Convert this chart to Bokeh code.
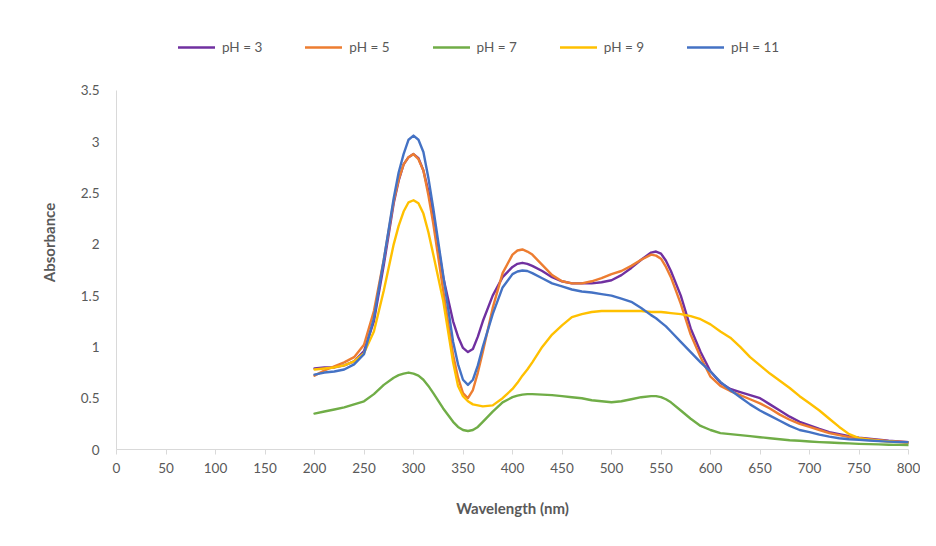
from bokeh.plotting import figure
from bokeh.models import Range1d, FixedTicker, Legend, LegendItem
from bokeh.embed import file_html
from bokeh.resources import INLINE

wavelength = [200, 210, 220, 230, 240, 250, 260, 270, 280, 285, 290, 295, 300, 305, 310, 315, 320, 330, 340, 345,
              350, 355, 360, 365, 370, 380, 390, 400, 405, 410, 415, 420, 430, 440, 450, 460, 470, 480, 490, 500,
              510, 520, 530, 540, 545, 550, 555, 560, 570, 580, 590, 600, 610, 620, 630, 640, 650, 660, 670, 680,
              690, 700, 710, 720, 730, 740, 750, 760, 770, 780, 790, 800]

ph3 = [0.79, 0.80, 0.80, 0.82, 0.86, 0.96, 1.25, 1.80, 2.40, 2.62, 2.78, 2.85, 2.88, 2.84, 2.72, 2.52, 2.28, 1.68, 1.25, 1.10,
       0.99, 0.95, 0.98, 1.10, 1.25, 1.50, 1.68, 1.78, 1.81, 1.82, 1.81, 1.79, 1.74, 1.68, 1.64, 1.62, 1.62, 1.62, 1.63, 1.65,
       1.70, 1.77, 1.85, 1.92, 1.93, 1.91, 1.84, 1.74, 1.50, 1.18, 0.95, 0.76, 0.65, 0.59, 0.56, 0.53, 0.50, 0.44, 0.38, 0.32,
       0.27, 0.235, 0.20, 0.17, 0.15, 0.13, 0.115, 0.105, 0.095, 0.085, 0.078, 0.07]

ph5 = [0.72, 0.77, 0.81, 0.85, 0.90, 1.02, 1.35, 1.85, 2.42, 2.63, 2.78, 2.85, 2.88, 2.83, 2.72, 2.48, 2.20, 1.55, 0.92, 0.70,
       0.55, 0.50, 0.58, 0.75, 0.95, 1.38, 1.72, 1.90, 1.94, 1.95, 1.93, 1.90, 1.80, 1.70, 1.64, 1.62, 1.62, 1.64, 1.67, 1.71,
       1.74, 1.79, 1.85, 1.90, 1.89, 1.86, 1.78, 1.68, 1.42, 1.12, 0.90, 0.71, 0.62, 0.57, 0.53, 0.49, 0.45, 0.40, 0.34, 0.29,
       0.25, 0.22, 0.19, 0.16, 0.14, 0.12, 0.11, 0.10, 0.09, 0.08, 0.075, 0.07]

ph7 = [0.35, 0.37, 0.39, 0.41, 0.44, 0.47, 0.54, 0.63, 0.70, 0.725, 0.74, 0.75, 0.74, 0.72, 0.68, 0.62, 0.55, 0.40, 0.27, 0.22,
       0.19, 0.18, 0.19, 0.22, 0.27, 0.37, 0.46, 0.51, 0.525, 0.535, 0.54, 0.54, 0.535, 0.53, 0.52, 0.51, 0.50, 0.48, 0.47, 0.46,
       0.47, 0.49, 0.51, 0.52, 0.52, 0.51, 0.49, 0.46, 0.38, 0.30, 0.23, 0.19, 0.16, 0.15, 0.14, 0.13, 0.12, 0.11, 0.10, 0.09,
       0.085, 0.078, 0.072, 0.068, 0.064, 0.06, 0.055, 0.052, 0.05, 0.047, 0.045, 0.043]

ph9 = [0.78, 0.79, 0.80, 0.82, 0.86, 0.94, 1.15, 1.55, 2.00, 2.18, 2.32, 2.41, 2.43, 2.40, 2.30, 2.12, 1.90, 1.45, 0.85, 0.62,
       0.52, 0.47, 0.44, 0.43, 0.42, 0.43, 0.50, 0.59, 0.65, 0.72, 0.78, 0.85, 1.00, 1.12, 1.21, 1.29, 1.32, 1.34, 1.35, 1.35,
       1.35, 1.35, 1.35, 1.34, 1.34, 1.34, 1.335, 1.33, 1.32, 1.30, 1.27, 1.22, 1.15, 1.09, 1.00, 0.90, 0.82, 0.74, 0.67, 0.60,
       0.52, 0.45, 0.38, 0.30, 0.22, 0.15, 0.11, 0.095, 0.085, 0.078, 0.072, 0.065]

ph11 = [0.73, 0.75, 0.76, 0.78, 0.83, 0.93, 1.28, 1.85, 2.45, 2.70, 2.88, 3.02, 3.06, 3.02, 2.90, 2.65, 2.35, 1.70, 1.05, 0.83,
        0.68, 0.63, 0.68, 0.82, 1.00, 1.32, 1.58, 1.71, 1.735, 1.745, 1.74, 1.72, 1.67, 1.62, 1.59, 1.56, 1.54, 1.53, 1.515, 1.50,
        1.47, 1.44, 1.38, 1.31, 1.28, 1.24, 1.20, 1.15, 1.05, 0.95, 0.85, 0.76, 0.66, 0.58, 0.51, 0.44, 0.38, 0.33, 0.28, 0.23,
        0.19, 0.17, 0.145, 0.125, 0.11, 0.10, 0.095, 0.088, 0.082, 0.077, 0.072, 0.07]

series_labels = ["pH = 3", "pH = 5", "pH = 7", "pH = 9", "pH = 11"]
series_values = [ph3, ph5, ph7, ph9, ph11]
series_colors = ["#7030A0", "#ED7D31", "#70AD47", "#FFC000", "#4472C4"]

x_ticks = list(range(0, 801, 50))
y_ticks = [0, 0.5, 1, 1.5, 2, 2.5, 3, 3.5]
y_axis_max = 3.5

FONT = "Lato"
GREY = "#595959"

# frame: x 116..908, y 35..449 ; the value axis itself spans 0..3.5 (y 90..449)
p = figure(width=920, height=530, output_backend="svg", toolbar_location=None,
           x_range=Range1d(0, 800), y_range=Range1d(0, 4.036),
           min_border_left=116, min_border_right=12, min_border_top=35, min_border_bottom=81)
p.outline_line_color = None
p.xgrid.visible = False
p.ygrid.visible = False

items = []
for lab, vals, col in zip(series_labels, series_values, series_colors):
    r = p.line(wavelength, vals, line_color=col, line_width=2.4, line_join="round", line_cap="round")
    items.append(LegendItem(label=lab, renderers=[r]))

p.xaxis.ticker = FixedTicker(ticks=x_ticks)
p.yaxis.ticker = FixedTicker(ticks=y_ticks)
p.yaxis.bounds = (0, y_axis_max)
p.yaxis.formatter.use_scientific = False

for ax in (p.xaxis[0], p.yaxis[0]):
    ax.axis_line_color = "#D9D9D9"
    ax.axis_line_width = 1
    ax.major_label_text_font = FONT
    ax.major_label_text_font_size = "13.5px"
    ax.major_label_text_color = GREY
    ax.minor_tick_line_color = None
    ax.axis_label_text_font = FONT
    ax.axis_label_text_font_size = "15px"
    ax.axis_label_text_font_style = "bold"
    ax.axis_label_text_color = GREY

p.xaxis.major_tick_line_color = "#D9D9D9"
p.xaxis.major_tick_in = 0
p.xaxis.major_tick_out = 5
p.xaxis.major_label_standoff = 8
p.yaxis.major_tick_line_color = None
p.yaxis.major_label_standoff = 11

p.xaxis.axis_label = "Wavelength (nm)"
p.yaxis.axis_label = "Absorbance"
p.xaxis.axis_label_standoff = 23
p.yaxis.axis_label_standoff = 20

legend = Legend(items=items, orientation="horizontal", location=(62, 394),
                glyph_width=37, glyph_height=16, label_standoff=7, spacing=43, padding=0, margin=0,
                border_line_color=None, background_fill_alpha=0,
                label_text_font=FONT, label_text_font_size="13.5px", label_text_color=GREY)
p.add_layout(legend, "center")

open("out.html", "w").write(file_html(p, INLINE))
